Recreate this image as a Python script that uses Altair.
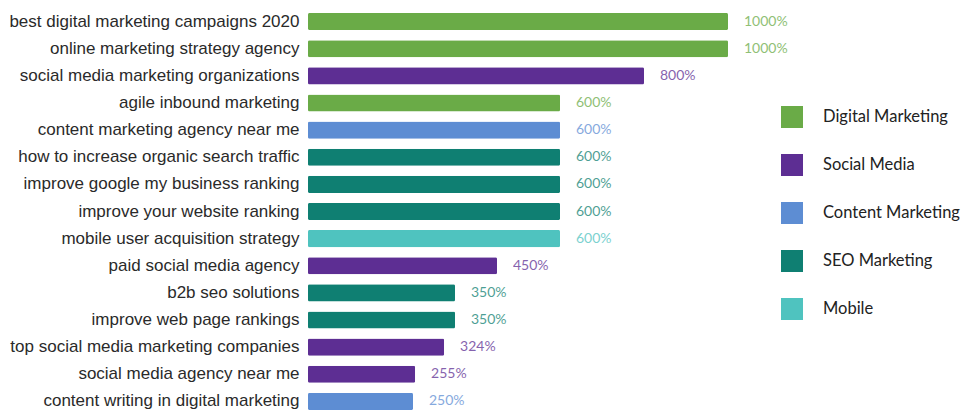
import altair as alt
import pandas as pd

keywords = [
    "best digital marketing campaigns 2020",
    "online marketing strategy agency",
    "social media marketing organizations",
    "agile inbound marketing",
    "content marketing agency near me",
    "how to increase organic search traffic",
    "improve google my business ranking",
    "improve your website ranking",
    "mobile user acquisition strategy",
    "paid social media agency",
    "b2b seo solutions",
    "improve web page rankings",
    "top social media marketing companies",
    "social media agency near me",
    "content writing in digital marketing",
]
growth = [1000, 1000, 800, 600, 600, 600, 600, 600, 600, 450, 350, 350, 324, 255, 250]
groups = [
    "Digital Marketing", "Digital Marketing", "Social Media", "Digital Marketing",
    "Content Marketing", "SEO Marketing", "SEO Marketing", "SEO Marketing", "Mobile",
    "Social Media", "SEO Marketing", "SEO Marketing", "Social Media", "Social Media",
    "Content Marketing",
]
group_order = ["Digital Marketing", "Social Media", "Content Marketing", "SEO Marketing", "Mobile"]
group_colors = ["#6aab47", "#5d2e93", "#5d8dd3", "#0f7f72", "#4fc3bf"]

df = pd.DataFrame({"keyword": keywords, "growth": growth, "group": groups})
df["label"] = df["growth"].astype(str) + "%"

y_enc = alt.Y("keyword:N", sort=keywords, title=None,
              scale=alt.Scale(paddingInner=0.37, paddingOuter=0.185),
              axis=alt.Axis(domain=False, ticks=False, grid=False, labelFontSize=17,
                            labelFont="Liberation Sans", labelColor="#2a2a2a",
                            labelPadding=9, labelLimit=400))
x_enc = alt.X("growth:Q", title=None, scale=alt.Scale(domain=[0, 1000], nice=False),
              axis=None)
color_scale = alt.Scale(domain=group_order, range=group_colors)

bars = alt.Chart(df).mark_bar(cornerRadius=1.5).encode(
    y=y_enc, x=x_enc,
    color=alt.Color("group:N", scale=color_scale, sort=group_order, title=None,
                    legend=alt.Legend(orient="none", legendX=473, legendY=98,
                                      symbolType="square", symbolSize=484,
                                      symbolStrokeWidth=0, symbolOpacity=1,
                                      labelFont="Lato", labelFontSize=16.5,
                                      labelLimit=300,
                                      labelColor="#222222", labelOffset=20,
                                      rowPadding=26, padding=0)),
)

texts = alt.Chart(df).mark_text(align="left", baseline="middle", dx=16,
                                font="Lato", fontSize=14, opacity=0.75).encode(
    y=alt.Y("keyword:N", sort=keywords),
    x=alt.X("growth:Q"),
    text="label:N",
    color=alt.Color("group:N", scale=color_scale, legend=None),
)

chart = (bars + texts).properties(
    width=420, height=407,
    background="white",
    autosize=alt.AutoSizeParams(type="none"),
    padding={"left": 300, "top": 0, "right": 238, "bottom": 0},
).configure_view(strokeWidth=0)

chart.save("out.html", embed_options={"renderer": "svg", "actions": False})
